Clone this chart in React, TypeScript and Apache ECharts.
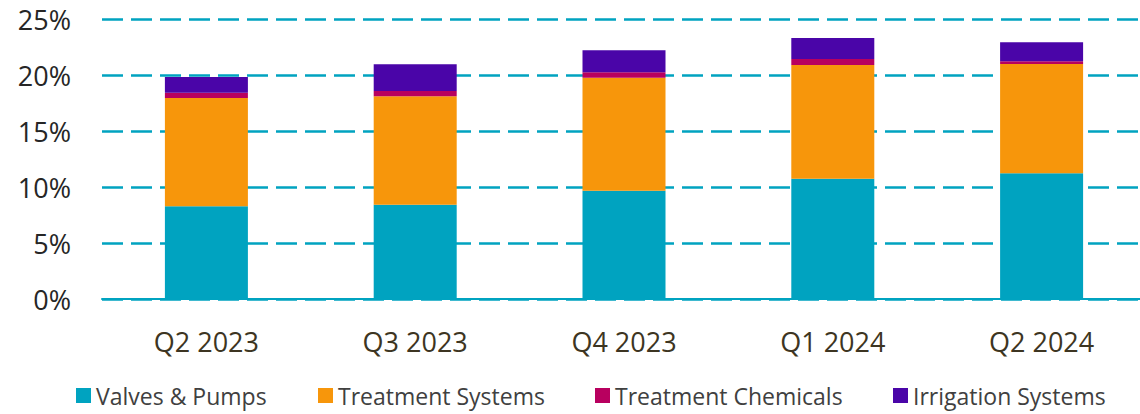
import React, { useEffect, useRef } from "react";
import * as echarts from "echarts";

const categories = ["Q2 2023", "Q3 2023", "Q4 2023", "Q1 2024", "Q2 2024"];
const valvesPumps = [8.28, 8.42, 9.67, 10.74, 11.22];
const treatmentSystems = [9.67, 9.68, 10.09, 10.15, 9.76];
const treatmentChemicals = [0.47, 0.47, 0.48, 0.54, 0.24];
const irrigationSystems = [1.4, 2.38, 1.96, 1.87, 1.7];
const seriesNames = ["Valves & Pumps", "Treatment Systems", "Treatment Chemicals", "Irrigation Systems"];
const colors = ["#00A3C0", "#F7960B", "#B8005F", "#4A05A8"];
const yTicks = { min: 0, max: 25, interval: 5 };

export default function App() {
  const ref = useRef<HTMLDivElement>(null);
  useEffect(() => {
    if (!ref.current) return;
    const chart = echarts.init(ref.current, undefined, { renderer: "svg" });
    const datasets = [valvesPumps, treatmentSystems, treatmentChemicals, irrigationSystems];
    const legendLefts = [76, 318, 595, 893];
    chart.setOption({
      animation: false,
      color: colors,
      grid: { left: 102, top: 19, width: 1044, height: 280, outerBoundsMode: "none", containLabel: false },
      legend: seriesNames.map((n, i) => ({
        data: [n],
        left: legendLefts[i],
        top: 384,
        padding: 0,
        icon: "rect",
        itemWidth: 15,
        itemHeight: 15,
        itemGap: 0,
        selectedMode: false,
        textStyle: { fontFamily: "Open Sans", fontSize: 23, color: "#404040" },
      })),
      xAxis: {
        type: "category",
        data: categories,
        axisTick: { show: false },
        axisLine: { show: true, lineStyle: { color: "#00A3C0", width: 2 } },
        axisLabel: { fontFamily: "Open Sans", fontSize: 27, color: "#3D3522", margin: 29 },
      },
      yAxis: {
        type: "value",
        min: yTicks.min,
        max: yTicks.max,
        interval: yTicks.interval,
        axisLine: { show: false },
        axisTick: { show: false },
        axisLabel: { formatter: "{value}%", fontFamily: "Open Sans", fontSize: 27, color: "#262626", margin: 31 },
        splitLine: { lineStyle: { color: "#00A3C0", width: 2.5, type: [21, 8] } },
      },
      series: seriesNames.map((n, i) => ({
        name: n,
        type: "bar",
        stack: "total",
        barWidth: 83,
        data: datasets[i],
        itemStyle: { color: colors[i] },
      })),
    });
    return () => chart.dispose();
  }, []);
  return <div ref={ref} style={{ position: "absolute", left: 0, top: 0, width: 1140, height: 414 }} />;
}
